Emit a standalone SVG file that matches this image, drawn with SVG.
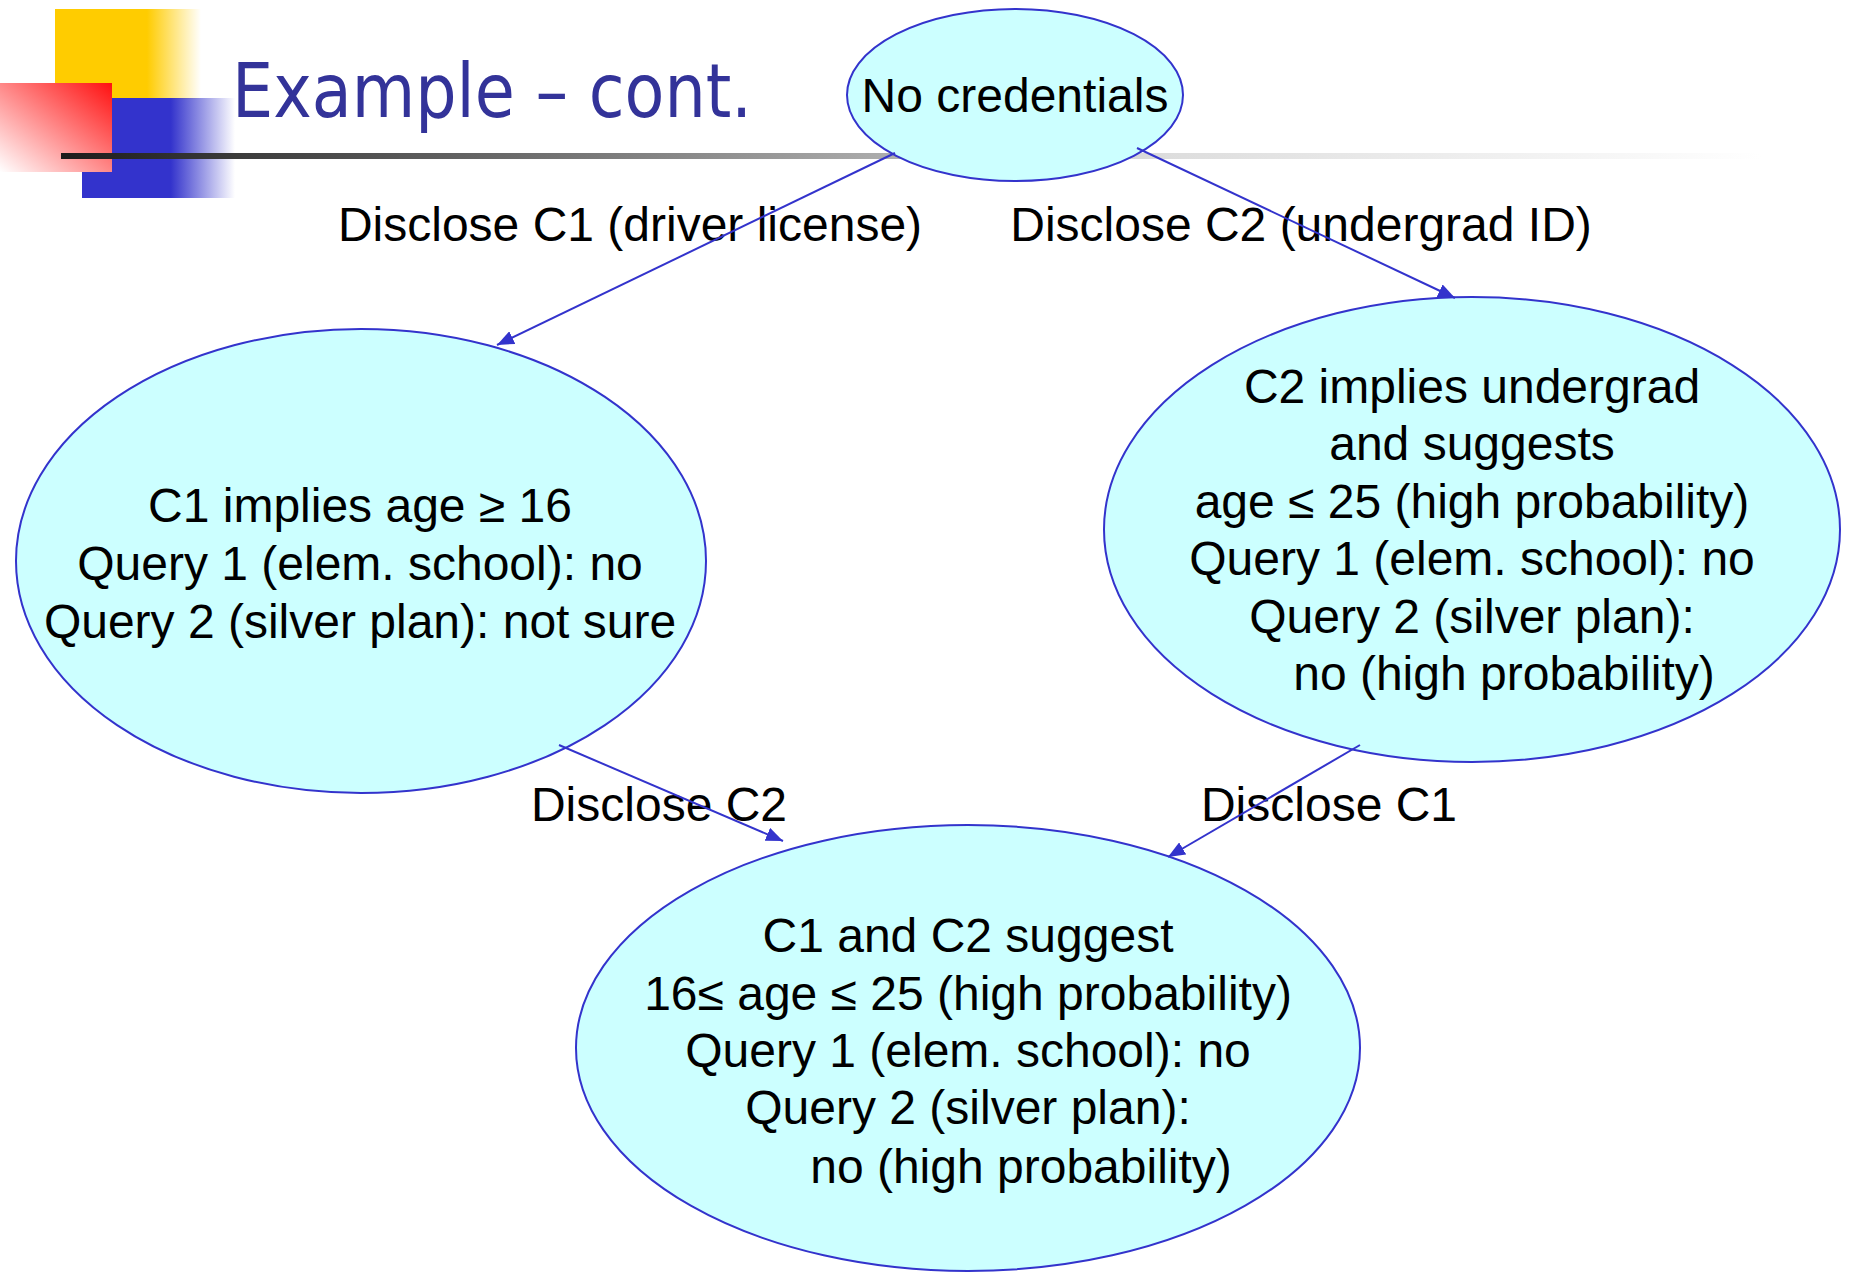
<svg xmlns="http://www.w3.org/2000/svg" width="1849" height="1272" viewBox="0 0 1849 1272">
<style>
.node ellipse{fill:#ccffff;stroke:#3333cc;stroke-width:2}
.t{font-family:"Liberation Sans",Arial,Helvetica,sans-serif;font-size:48px;fill:#000;text-anchor:middle}
.edge{stroke:#3333cc;stroke-width:2;fill:none;marker-end:url(#arr)}
.title{font-family:"DejaVu Sans Condensed","DejaVu Sans",Tahoma,sans-serif;font-size:75px;fill:#333399}
</style>
<defs>
<marker id="arr" markerUnits="userSpaceOnUse" markerWidth="18" markerHeight="14" refX="17" refY="7" orient="auto">
<path d="M0,0 L17,7 L0,14 z" fill="#3333cc"/>
</marker>
<linearGradient id="gy" x1="0" y1="0" x2="1" y2="0">
<stop offset="0" stop-color="#ffcc00"/><stop offset="0.63" stop-color="#ffcc00"/><stop offset="1" stop-color="#ffcc00" stop-opacity="0"/>
</linearGradient>
<linearGradient id="gb" x1="0" y1="0" x2="1" y2="0">
<stop offset="0" stop-color="#3333cc"/><stop offset="0.58" stop-color="#3333cc"/><stop offset="1" stop-color="#3333cc" stop-opacity="0"/>
</linearGradient>
<linearGradient id="gr" x1="1" y1="0" x2="0" y2="1">
<stop offset="0" stop-color="#ff1010"/><stop offset="1" stop-color="#ffffff"/>
</linearGradient>
<linearGradient id="gl" x1="0" y1="0" x2="1" y2="0">
<stop offset="0" stop-color="#1c1c1c"/><stop offset="0.42" stop-color="#999999"/><stop offset="0.65" stop-color="#dddddd"/><stop offset="1" stop-color="#ffffff"/>
</linearGradient>
</defs>
<rect width="1849" height="1272" fill="#ffffff"/>
<g id="logo">
<rect x="55" y="9" width="146" height="90" fill="url(#gy)"/>
<rect x="82" y="98" width="153" height="100" fill="url(#gb)"/>
<rect x="0" y="83" width="112" height="89" fill="url(#gr)"/>
</g>
<rect id="title-rule" x="61" y="153" width="1700" height="6" fill="url(#gl)"/>
<text id="title" class="title" x="232" y="117" textLength="520" lengthAdjust="spacingAndGlyphs">Example – cont.</text>
<g id="node-none" class="node">
<ellipse cx="1015" cy="95" rx="168" ry="86"/>
<text class="t" x="1015" y="112">No credentials</text>
</g>
<g id="node-c1" class="node">
<ellipse cx="361" cy="561" rx="345" ry="232"/>
<text class="t" x="360" y="522">C1 implies age ≥ 16</text>
<text class="t" x="360" y="580">Query 1 (elem. school): no</text>
<text class="t" x="360" y="638">Query 2 (silver plan): not sure</text>
</g>
<g id="node-c2" class="node">
<ellipse cx="1472" cy="529.5" rx="368" ry="232.5"/>
<text class="t" x="1472" y="403">C2 implies undergrad</text>
<text class="t" x="1472" y="460">and suggests</text>
<text class="t" x="1472" y="518">age ≤ 25 (high probability)</text>
<text class="t" x="1472" y="575">Query 1 (elem. school): no</text>
<text class="t" x="1472" y="633">Query 2 (silver plan):</text>
<text class="t" x="1504" y="690">no (high probability)</text>
</g>
<g id="node-c1c2" class="node">
<ellipse cx="968" cy="1048" rx="392" ry="223"/>
<text class="t" x="968" y="952">C1 and C2 suggest</text>
<text class="t" x="968" y="1010">16≤ age ≤ 25 (high probability)</text>
<text class="t" x="968" y="1067">Query 1 (elem. school): no</text>
<text class="t" x="968" y="1124">Query 2 (silver plan):</text>
<text class="t" x="1021" y="1183">no (high probability)</text>
</g>
<g id="connectors">
<text class="t" x="630" y="241">Disclose C1 (driver license)</text>
<text class="t" x="1301" y="241">Disclose C2 (undergrad ID)</text>
<text class="t" x="659" y="821">Disclose C2</text>
<text class="t" x="1329" y="821">Disclose C1</text>
<line class="edge" x1="895" y1="153" x2="497" y2="345"/>
<line class="edge" x1="1137" y1="148" x2="1455" y2="298"/>
<line class="edge" x1="559" y1="745" x2="783" y2="841"/>
<line class="edge" x1="1360" y1="745" x2="1168" y2="857"/>
</g>
</svg>
